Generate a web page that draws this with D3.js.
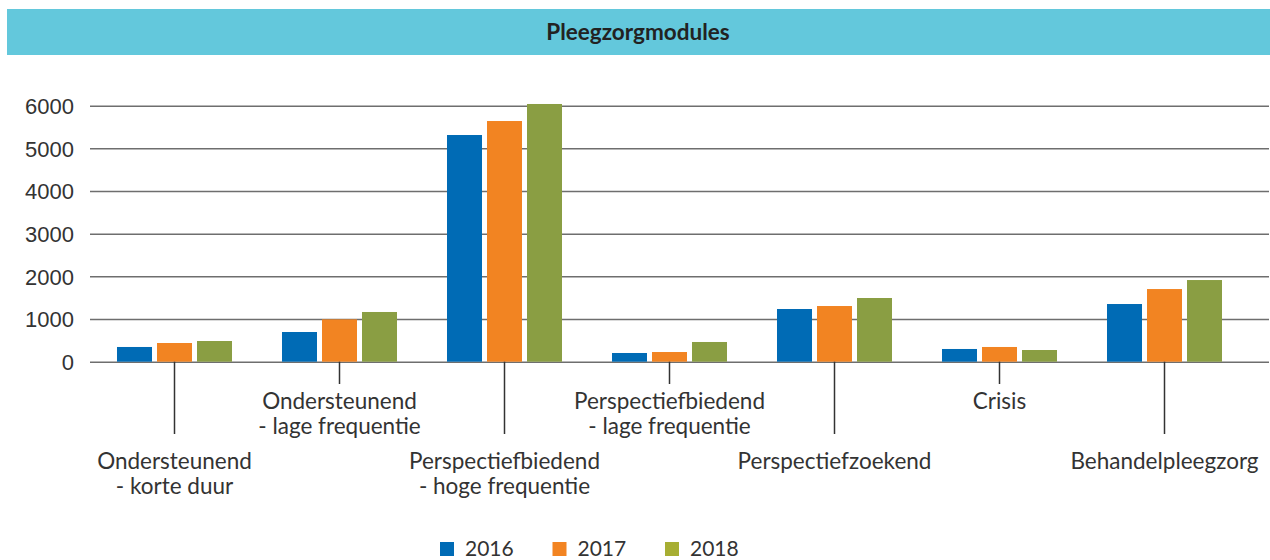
<!doctype html>
<html lang="en">
<head>
  <meta charset="utf-8">
  <title>Pleegzorgmodules</title>
  <style>
    body { margin: 0; background: #fff; }
    svg { display: block; font-family: Lato, "Open Sans", sans-serif; }
    .title { font-weight: 700; font-size: 22.5px; fill: #222; }
    .axis--y text { font-size: 22px; fill: #333; }
    .axis--y path { display: none; }
    .axis--y line { stroke: #6e6e6e; stroke-width: 1.5px; }
    .cat-label { font-size: 22.5px; fill: #333; }
    .cat-tick { stroke: #333; stroke-width: 1.5px; }
    .legend text { font-size: 21px; fill: #333; }
  </style>
</head>
<body>
  <div class="chart"></div>
  <script src="https://d3js.org/d3.v7.min.js"></script>
  <script>
    'use strict';

    // data
    const categories = [
      ['Ondersteunend', '- korte duur'],
      ['Ondersteunend', '- lage frequentie'],
      ['Perspectiefbiedend', '- hoge frequentie'],
      ['Perspectiefbiedend', '- lage frequentie'],
      ['Perspectiefzoekend'],
      ['Crisis'],
      ['Behandelpleegzorg']
    ];
    const years = ['2016', '2017', '2018'];
    const values2016 = [345, 696, 5313, 204, 1235, 298, 1352];
    const values2017 = [438, 993, 5641, 227, 1305, 345, 1703];
    const values2018 = [485, 1165, 6040, 462, 1493, 274, 1914];
    const yTicks = [0, 1000, 2000, 3000, 4000, 5000, 6000];
    const barColors = ['#006bb5', '#f28422', '#8a9e43'];
    const legendColors = ['#006bb5', '#f28422', '#a7ae33'];

    const seriesValues = [values2016, values2017, values2018];
    const catKeys = categories.map(c => c.join(' '));
    const rows = catKeys.map((k, i) => ({
      key: k,
      lines: categories[i],
      vals: years.map((y, j) => ({year: y, value: seriesValues[j][i]}))
    }));

    const W = 1270, H = 560;
    const svg = d3.select('.chart').append('svg')
      .attr('width', W)
      .attr('height', H);

    // title band
    svg.append('rect')
      .attr('x', 7).attr('y', 9)
      .attr('width', W - 7).attr('height', 46)
      .attr('fill', '#63c8dc');
    svg.append('text')
      .attr('class', 'title')
      .attr('x', 638).attr('y', 40)
      .attr('text-anchor', 'middle')
      .text('Pleegzorgmodules');

    const yScale = d3.scaleLinear()
      .domain([0, 6000])
      .range([361.7, 105.7]);

    const x0 = d3.scaleBand()
      .domain(catKeys)
      .range([92, 1247])
      .paddingInner(0.303)
      .paddingOuter(0.1515);

    const x1 = d3.scaleBand()
      .domain(years)
      .range([0, x0.bandwidth()])
      .paddingInner(0.125);

    const color = d3.scaleOrdinal().domain(years).range(barColors);

    // gridlines + y labels
    svg.append('g')
      .attr('class', 'axis axis--y')
      .attr('transform', 'translate(90,0)')
      .call(d3.axisLeft(yScale)
        .tickValues(yTicks)
        .tickFormat(d3.format('d'))
        .tickSize(-(1269 - 90))
        .tickPadding(16))
      .call(g => g.selectAll('.tick text').attr('dy', '0.36em'));

    // bars
    svg.append('g').selectAll('g')
      .data(rows)
      .join('g')
      .attr('transform', d => `translate(${x0(d.key)},0)`)
      .selectAll('rect')
      .data(d => d.vals)
      .join('rect')
      .attr('x', d => x1(d.year))
      .attr('y', d => yScale(d.value))
      .attr('width', x1.bandwidth())
      .attr('height', d => yScale(0) - yScale(d.value))
      .attr('fill', d => color(d.year));

    // category ticks and staggered labels
    const cats = svg.append('g').selectAll('g')
      .data(rows)
      .join('g')
      .attr('transform', d => `translate(${x0(d.key) + x0.bandwidth() / 2},0)`);

    cats.append('line')
      .attr('class', 'cat-tick')
      .attr('y1', yScale(0))
      .attr('y2', (d, i) => i % 2 === 0 ? 434 : 384);

    cats.append('text')
      .attr('class', 'cat-label')
      .attr('text-anchor', 'middle')
      .selectAll('tspan')
      .data((d, i) => d.lines.map((l, k) => ({l: l, y: (i % 2 === 0 ? 469 : 409) + k * 24.5})))
      .join('tspan')
      .attr('x', 0)
      .attr('y', d => d.y)
      .text(d => d.l);

    // legend
    const legendX = d3.scalePoint().domain(years).range([440, 665]);
    const legend = svg.append('g').attr('class', 'legend')
      .selectAll('g')
      .data(years)
      .join('g')
      .attr('transform', d => `translate(${legendX(d)},542)`);
    legend.append('rect')
      .attr('width', 14).attr('height', 14)
      .attr('fill', (d, i) => legendColors[i]);
    legend.append('text')
      .attr('x', 25).attr('y', 14)
      .text(d => d);
  </script>
</body>
</html>
